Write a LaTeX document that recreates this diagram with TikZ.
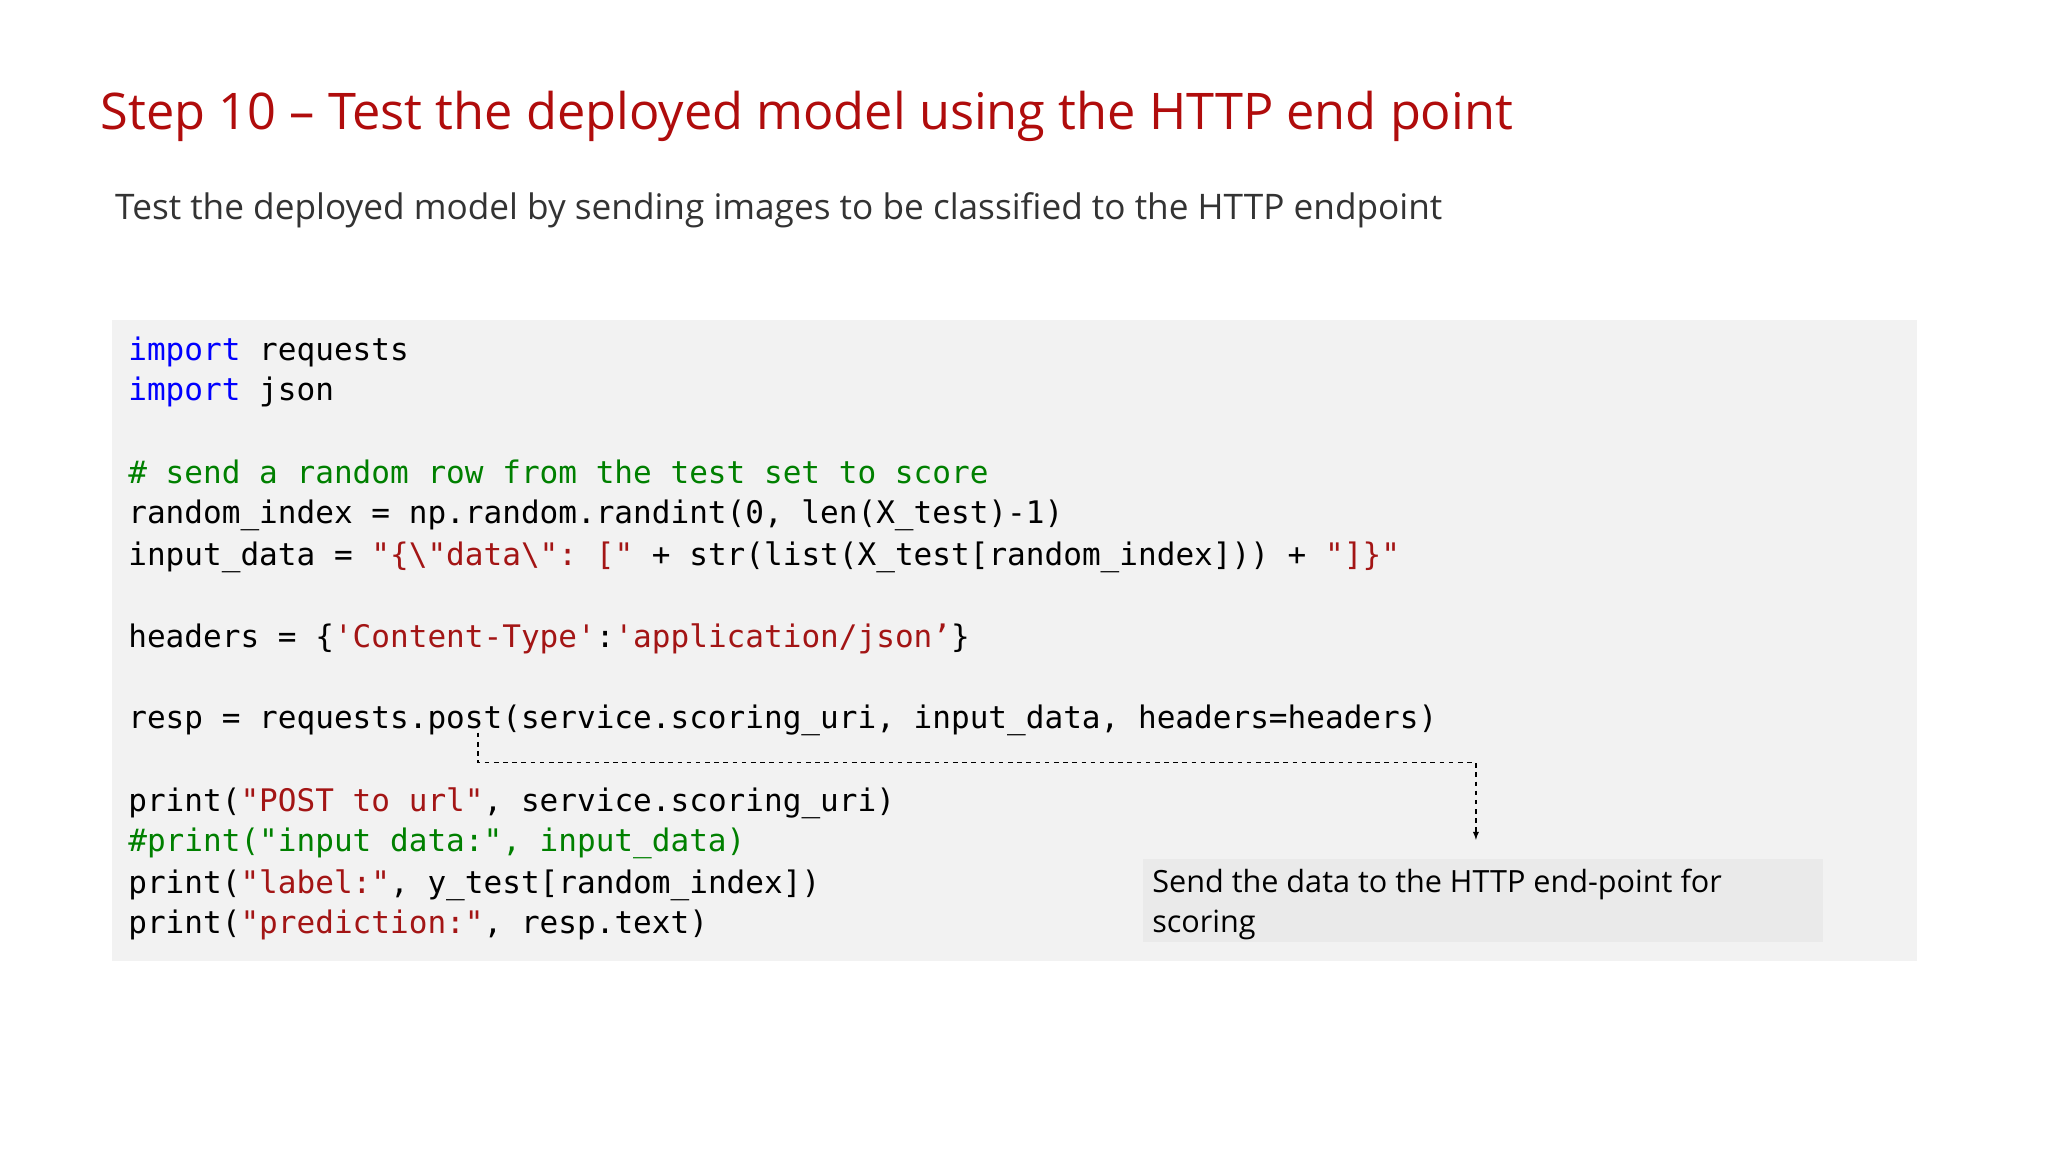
\documentclass[tikz,border=0pt]{standalone}
\usepackage{fontspec}
\setmainfont{Open Sans}
\setmonofont{DejaVu Sans Mono}
\definecolor{titlered}{HTML}{B00C0C}
\definecolor{kwblue}{HTML}{0000FF}
\definecolor{cmgreen}{HTML}{008000}
\definecolor{strred}{HTML}{A31515}
\definecolor{codebg}{HTML}{F2F2F2}
\definecolor{callbg}{HTML}{EAEAEA}
\newcommand{\kw}[1]{\textcolor{kwblue}{#1}}
\newcommand{\cm}[1]{\textcolor{cmgreen}{#1}}
\newcommand{\st}[1]{\textcolor{strred}{#1}}
\begin{document}
\begin{tikzpicture}[x=0.3mm,y=-0.3mm,
  code/.style={anchor=base west,inner sep=0,font=\fontsize{20.3}{24}\selectfont\ttfamily},
  body/.style={anchor=base west,inner sep=0,font=\fontsize{22}{26}\selectfont}]
\useasboundingbox[fill=white] (0,0) rectangle (1568,882);
\node[anchor=base west,inner sep=0,font=\fontsize{33}{40}\selectfont,text=titlered] (title) at (77,99) {Step 10 – Test the deployed model using the HTTP end point};
\node[body,font=\fontsize{23}{28}\selectfont,text=black!80] (sub) at (88,168) {Test the deployed model by sending images to be classified to the HTTP endpoint};
\fill[codebg] (86,245) rectangle (1468,736);
\node[code] (l1) at (98,276) {\kw{import} requests};
\node[code] (l2) at (98,307) {\kw{import} json};
\node[code] (l3) at (98,370) {\cm{\# send a random row from the test set to score}};
\node[code] (l4) at (98,401) {random\_index = np.random.randint(0, len(X\_test)-1)};
\node[code] (l5) at (98,433) {input\_data = \st{"\{\textbackslash"data\textbackslash": ["} + str(list(X\_test[random\_index])) + \st{"]\}"}};
\node[code] (l6) at (98,496) {headers = \{\st{'Content-Type'}:\st{'application/json’}\}};
\node[code] (l7) at (98,558) {resp = requests.post(service.scoring\_uri, input\_data, headers=headers)};
\node[code] (l8) at (98,621) {print(\st{"POST to url"}, service.scoring\_uri)};
\node[code] (l9) at (98,652) {\cm{\#print("input data:", input\_data)}};
\node[code] (l10) at (98,684) {print(\st{"label:"}, y\_test[random\_index])};
\node[code] (l11) at (98,715) {print(\st{"prediction:"}, resp.text)};
\fill[callbg] (875,658) rectangle (1396,721);
\node[body,font=\fontsize{20}{24}\selectfont] (c1) at (882,683) {Send the data to the HTTP end-point for};
\node[body,font=\fontsize{20}{24}\selectfont] (c2) at (882,714) {scoring};
\coordinate (s) at (366,561);
\coordinate (e) at (1130,643);
\draw[dashed,thick,-latex] (s) |- (1130,584) -- (e);
\end{tikzpicture}
\end{document}
